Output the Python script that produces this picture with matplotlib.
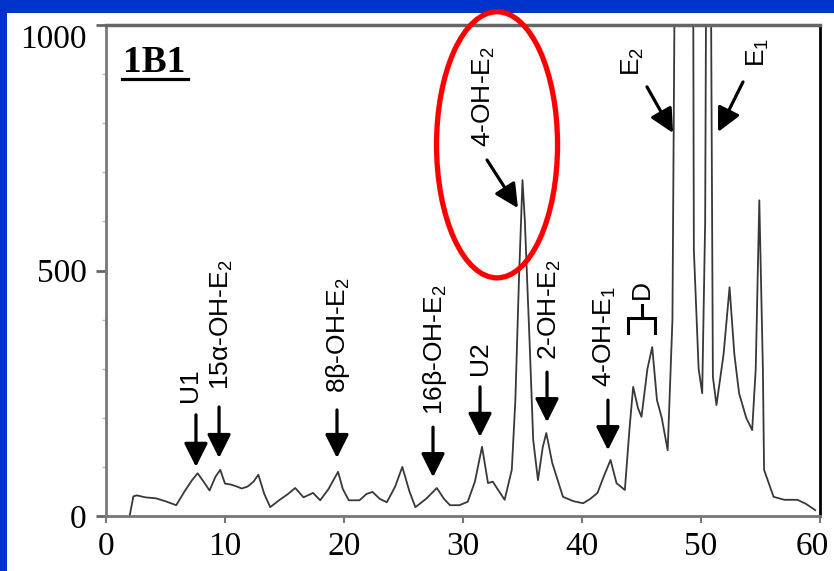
import matplotlib
matplotlib.use("Agg")
import matplotlib.pyplot as plt
from matplotlib.patches import Rectangle, Ellipse
from matplotlib.transforms import ScaledTranslation

plt.rcParams["mathtext.fontset"] = "custom"
plt.rcParams["mathtext.rm"] = "Liberation Sans"
plt.rcParams["mathtext.it"] = "Liberation Sans:italic"

# chromatogram: retention time (min) and response
rt = [2.0, 2.3, 2.6, 3.3, 4.2, 5.0, 5.9, 6.6, 7.2, 7.7, 8.2, 8.7, 9.2, 9.6,
      10.0, 10.5, 11.0, 11.4, 11.9, 12.4, 12.8, 13.3, 13.8, 14.6, 15.3, 15.9,
      16.6, 17.4, 18.0, 18.7, 19.5, 19.9, 20.4, 21.3, 21.9, 22.4, 23.0, 23.6,
      24.3, 24.9, 25.5, 26.0, 26.9, 27.8, 28.4, 28.9, 29.7, 30.4, 31.0, 31.6,
      32.1, 32.5, 32.9, 33.5, 34.1, 34.4, 34.7, 35.0, 35.2, 35.4, 35.6, 35.9,
      36.3, 36.7, 37.0, 37.5, 38.4, 39.3, 40.1, 40.7, 41.3, 41.9, 42.4, 42.9,
      43.6, 44.0, 44.3, 44.7, 45.0, 45.5, 45.9, 46.3, 46.7, 47.2, 47.6, 47.9,
      49.3, 49.4, 49.8, 50.1, 50.35, 50.5, 50.75, 51.0, 51.3, 51.9, 52.4, 52.8,
      53.2, 53.8, 54.3, 54.6, 54.9, 55.2, 55.3, 56.1, 57.0, 58.1, 58.8, 59.6]
resp = [2, 40, 42, 38, 36, 30, 22, 50, 72, 87, 70, 52, 80, 94,
        66, 64, 60, 56, 60, 70, 84, 45, 18, 33, 45, 57,
        38, 47, 32, 55, 90, 55, 32, 32, 45, 49, 35, 28,
        60, 100, 50, 18, 35, 57, 35, 22, 22, 29, 70, 141,
        67, 70, 55, 33, 94, 236, 480, 684, 600, 474, 352, 155,
        73, 140, 169, 108, 39, 30, 26, 35, 47, 85, 114, 67,
        53, 180, 263, 220, 202, 300, 344, 236, 200, 134, 400, 1500,
        1500, 542, 300, 250, 600, 1500, 1500, 283, 226, 330, 466, 330,
        250, 200, 175, 300, 643, 300, 94, 39, 33, 33, 25, 12]

# vertical arrow labels
peak_names = ["U1", "15α-OH-E$_2$", "8β-OH-E$_2$", "16β-OH-E$_2$", "U2",
              "2-OH-E$_2$", "4-OH-E$_1$"]
peak_times = [7.56, 9.5, 19.41, 27.48, 31.43, 37.06, 42.18]
tip_resp = [100, 118, 118, 79, 161, 191, 134]
# layout of those labels
tail_resp = [206, 222, 216, 181, 263, 293, 236]
text_x = [7.06, 9.75, 19.5, 27.65, 31.43, 37.3, 41.9]
text_y = [267, 389, 369, 338, 321, 421, 366]

# slanted arrow labels: name, tip (t, v), tail (t, v), text (t, v)
slant_names = ["4-OH-E$_2$", "E$_2$", "E$_1$"]
slant_tip = [(34.62, 627), (47.65, 780), (51.43, 782)]
slant_tail = [(32.02, 725), (45.46, 874), (53.53, 884)]
slant_text = [(31.76, 855), (44.29, 925), (54.79, 945)]

# group D spans these retention times
d_span = (43.87, 46.13)

fig = plt.figure(figsize=(8.34, 5.71), dpi=100, facecolor="#0033cc")
fig.patches.append(Rectangle((7 / 834, 0), 827 / 834, 558 / 571,
                             transform=fig.transFigure, facecolor="white",
                             edgecolor="none", zorder=-1))
ax = fig.add_axes([106 / 834, 55 / 571, 714 / 834, 491 / 571])
ax.set_facecolor("white")

ax.plot(rt, resp, color="#383838", lw=1.3)
ax.set_xlim(0, 60)
ax.set_ylim(0, 1000)

serif = "Liberation Serif"
ax.set_xticks(range(0, 61, 10))
ax.set_yticks([0, 500, 1000])
ax.set_yticks(range(0, 1001, 100), minor=True)
ax.tick_params(axis="x", length=5, width=1.5, color="#777", pad=6)
ax.tick_params(axis="y", which="major", length=7, width=2, color="#666", pad=7)
ax.tick_params(axis="y", which="minor", length=3, width=1, color="#bbb")
for lab in ax.get_xticklabels() + ax.get_yticklabels():
    lab.set_fontfamily(serif)
    lab.set_fontsize(24)
ax.get_yticklabels()[-1].set_va("top")
# the last x label sits a bit left of its tick, as in the original
last = ax.xaxis.get_major_ticks()[-1].label1
last.set_transform(last.get_transform()
                   + ScaledTranslation(-8 / 100, 0, fig.dpi_scale_trans))

for side in ["left", "bottom"]:
    ax.spines[side].set_color("#777")
    ax.spines[side].set_linewidth(2)
ax.spines["top"].set_color("#666")
ax.spines["top"].set_linewidth(2.5)
ax.spines["right"].set_color("black")
ax.spines["right"].set_linewidth(2)

arrow = dict(arrowstyle="-|>,head_length=0.72,head_width=0.36",
             mutation_scale=20, lw=2.3, color="black", shrinkA=0, shrinkB=0)
sans = "Liberation Sans"

for name, t, tip, tail, tx, ty in zip(peak_names, peak_times, tip_resp,
                                      tail_resp, text_x, text_y):
    ax.annotate("", xy=(t, tip), xytext=(t, tail), arrowprops=arrow)
    ax.text(tx, ty, name, rotation=90, ha="center", va="center",
            fontsize=19, family=sans)

for name, tip, tail, txt in zip(slant_names, slant_tip, slant_tail, slant_text):
    ax.annotate("", xy=tip, xytext=tail, arrowprops=arrow)
    ax.text(txt[0], txt[1], name, rotation=90, ha="center", va="center",
            fontsize=19, family=sans)

# bracket for D
d0, d1 = d_span
dm = (d0 + d1) / 2
ax.plot([d0, d0, d1, d1], [373, 403, 403, 373], color="black", lw=2.2,
        solid_joinstyle="miter")
ax.plot([dm, dm], [403, 430], color="black", lw=2.2)
ax.text(dm + 0.05, 461, "D", rotation=90, ha="center", va="center",
        fontsize=19, family=sans)

# panel tag
ax.text(1.43, 904, "1B1", fontsize=27, fontweight="bold", family=serif,
        ha="left", va="baseline")
ax.plot([1.34, 6.89], [890, 890], color="black", lw=2.3, clip_on=False)

ax.add_patch(Ellipse((32.86, 756), 10.17, 542, fill=False, edgecolor="#ff0000",
                     lw=3.8, clip_on=False, zorder=5))

fig.savefig("out.png", dpi=100, facecolor=fig.get_facecolor())
